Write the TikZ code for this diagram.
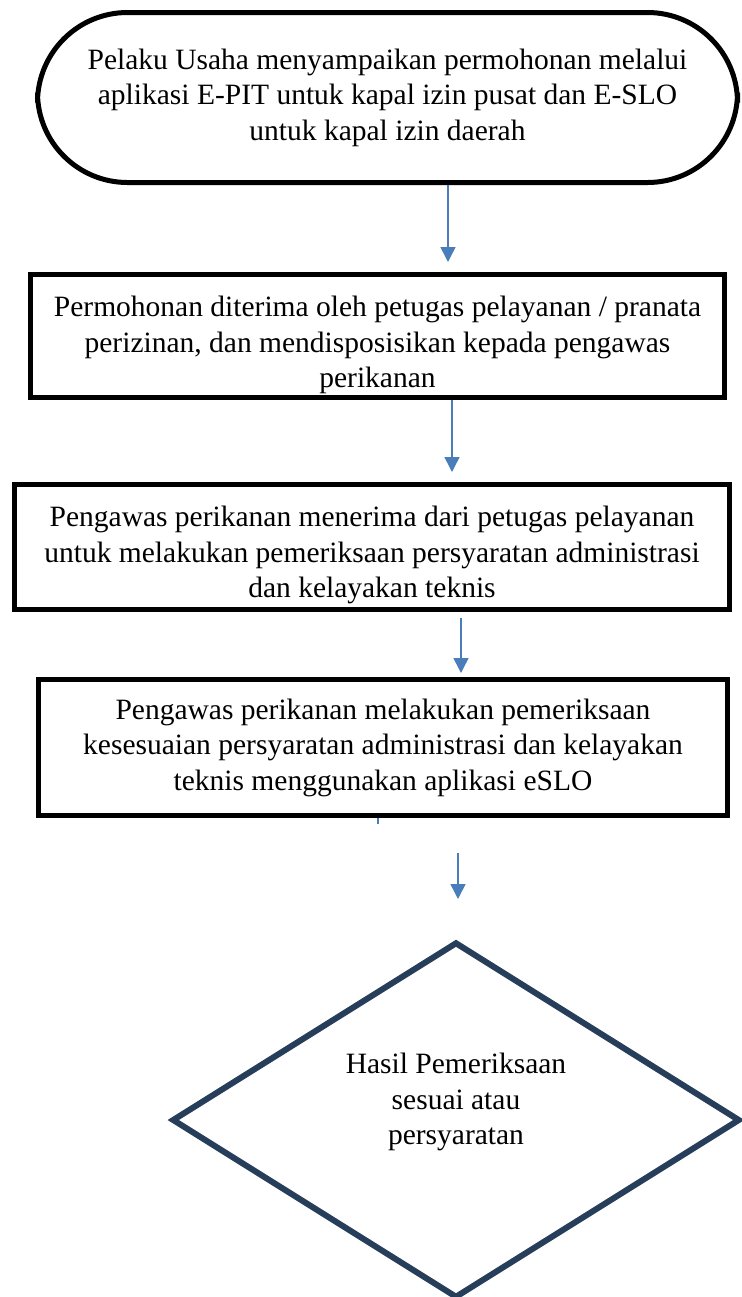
\documentclass[tikz,border=0pt]{standalone}
\usepackage{fontspec}
\setmainfont{Liberation Serif}
\usetikzlibrary{shapes.geometric,arrows.meta}

\definecolor{flowblue}{RGB}{74,126,187}
\definecolor{slateblue}{RGB}{38,62,90}

\tikzset{
  txt/.style={align=center, font=\fontsize{14.75}{17.75}\selectfont},
  procbox/.style={txt, draw, line width=2.5pt, rectangle, inner sep=0pt},
  flow/.style={draw=flowblue, line width=0.75pt, -{Triangle[width=7.5pt,length=7.5pt]}, flowblue}
}

\begin{document}
\begin{tikzpicture}[x=0.5pt,y=-0.5pt]

\useasboundingbox (0,0) rectangle (742,1297);
\clip (0,0) rectangle (742,1297);

%\draw[help lines] (0,0) grid (742,1297);

%% Start
\node [procbox, rounded corners=45pt, minimum width=350pt, minimum height=85pt] (usaha) at (387.5,97.5)
  { Pelaku Usaha menyampaikan permohonan melalui\\aplikasi E-PIT untuk kapal izin pusat dan E-SLO\\untuk kapal izin daerah };

%% Petugas pelayanan
\node [procbox, minimum width=347pt, minimum height=61.5pt,
  label={[txt, yshift=-4.5pt]center:Permohonan diterima oleh petugas pelayanan / pranata\\perizinan, dan mendisposisikan kepada pengawas\\perikanan}] (terima) at (377.5,336) {};

%% Pengawas menerima
\node [procbox, minimum width=357.5pt, minimum height=62.5pt,
  label={[txt, yshift=-4pt]center:Pengawas perikanan menerima dari petugas pelayanan\\untuk melakukan pemeriksaan persyaratan administrasi\\dan kelayakan teknis}] (pengawas) at (372,547) {};

%% Pemeriksaan eSLO
\node [procbox, minimum width=344.5pt, minimum height=68pt] (periksa) at (383,747.5)
  { Pengawas perikanan melakukan pemeriksaan\\kesesuaian persyaratan administrasi dan kelayakan\\teknis menggunakan aplikasi eSLO };

%% Keputusan
\node [diamond, draw=slateblue, line width=3pt, inner sep=0pt, minimum width=284pt, minimum height=178pt,
  label={[txt, yshift=9pt]center:Hasil Pemeriksaan\\sesuai atau\\persyaratan}] (hasil) at (456,1120) {};

%% Arrows
\coordinate (c1) at (448,0);
\coordinate (c2) at (452,0);
\coordinate (c3) at (461,0);
\coordinate (c4) at (378,0);
\coordinate (c5) at (458,0);

\draw [flow, shorten >=5pt] (usaha.south -| c1) -- (terima.north -| c1);
\draw [flow, shorten >=5pt] (terima.south -| c2) -- (pengawas.north -| c2);
\draw [flow, shorten <=3pt, shorten >=2pt] (pengawas.south -| c3) -- (periksa.north -| c3);
\draw [draw=flowblue, line width=0.75pt] (periksa.south -| c4) -- ++(0,6);
\draw [flow, shorten <=17.5pt, shorten >=20pt] (periksa.south -| c5) -- (hasil.north -| c5);

\end{tikzpicture}
\end{document}
